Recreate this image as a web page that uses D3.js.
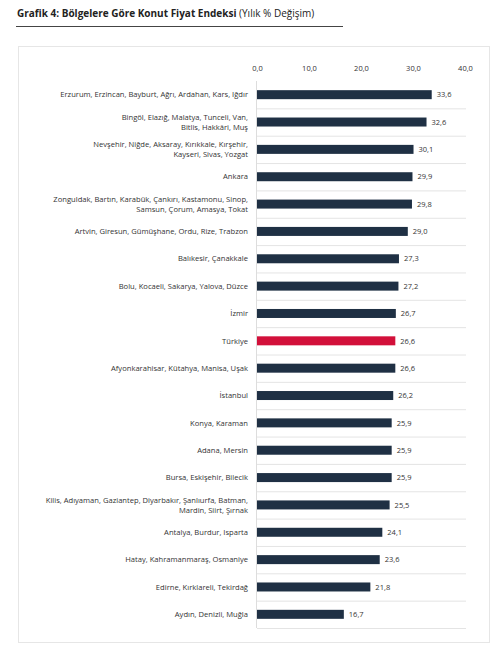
<!DOCTYPE html>
<html><head><meta charset="utf-8">
<script src="https://cdn.jsdelivr.net/npm/d3@7"></script>
<style>body{margin:0;background:#fff;font-family:"Open Sans",sans-serif;}</style>
</head><body><svg id="c" width="499" height="645"></svg>
<script>
const categories = [
 ["Erzurum, Erzincan, Bayburt, Ağrı, Ardahan, Kars, Iğdır"],
 ["Bingöl, Elazığ, Malatya, Tunceli, Van,","Bitlis, Hakkâri, Muş"],
 ["Nevşehir, Niğde, Aksaray, Kırıkkale, Kırşehir,","Kayseri, Sivas, Yozgat"],
 ["Ankara"],
 ["Zonguldak, Bartın, Karabük, Çankırı, Kastamonu, Sinop,","Samsun, Çorum, Amasya, Tokat"],
 ["Artvin, Giresun, Gümüşhane, Ordu, Rize, Trabzon"],
 ["Balıkesir, Çanakkale"],
 ["Bolu, Kocaeli, Sakarya, Yalova, Düzce"],
 ["İzmir"],
 ["Türkiye"],
 ["Afyonkarahisar, Kütahya, Manisa, Uşak"],
 ["İstanbul"],
 ["Konya, Karaman"],
 ["Adana, Mersin"],
 ["Bursa, Eskişehir, Bilecik"],
 ["Kilis, Adıyaman, Gaziantep, Diyarbakır, Şanlıurfa, Batman,","Mardin, Siirt, Şırnak"],
 ["Antalya, Burdur, Isparta"],
 ["Hatay, Kahramanmaraş, Osmaniye"],
 ["Edirne, Kırklareli, Tekirdağ"],
 ["Aydın, Denizli, Muğla"]
];
const values = [33.6,32.6,30.1,29.9,29.8,29.0,27.3,27.2,26.7,26.6,26.6,26.2,25.9,25.9,25.9,25.5,24.1,23.6,21.8,16.7];
const ticks = [0,10,20,30,40];
const highlight = "Türkiye";

const svg = d3.select("#c");
svg.append("text").attr("x",17).attr("y",17).attr("font-size",10).attr("font-weight","bold").attr("fill","#222")
  .text("Grafik 4: Bölgelere Göre Konut Fiyat Endeksi ")
  .append("tspan").attr("font-weight","normal").text("(Yılık % Değişim)");
svg.append("line").attr("x1",16).attr("x2",343).attr("y1",26.5).attr("y2",26.5).attr("stroke","#444").attr("stroke-width",1);
svg.append("rect").attr("x",18.5).attr("y",46.5).attr("width",471).attr("height",596).attr("fill","none").attr("stroke","#e6e6e6");

const x = d3.scaleLinear().domain([0,40]).range([257,465]);
const y = d3.scaleBand().domain(d3.range(values.length)).range([81,628]);
const fmt = v => d3.format(".1f")(v).replace(".",",");

svg.append("g").attr("transform","translate(0,74)")
  .call(d3.axisTop(x).tickValues(ticks).tickSize(0).tickFormat(fmt))
  .call(g=>{g.select(".domain").remove();g.selectAll("text").attr("font-size",7.5).attr("fill","#333").attr("font-family","Open Sans");});

const g = svg.append("g");
values.forEach((v,i)=>{
  g.append("line").attr("x1",x(0)).attr("x2",466).attr("y1",y(i)+y.bandwidth()+0.5).attr("y2",y(i)+y.bandwidth()+0.5)
   .attr("stroke","#e4e4e4");
});
g.append("line").attr("x1",x(0)-0.5).attr("x2",x(0)-0.5).attr("y1",81).attr("y2",628).attr("stroke","#ddd");

g.selectAll("rect.bar").data(values).join("rect")
  .attr("x",x(0)).attr("y",(d,i)=>y(i)+y.bandwidth()/2-4.5)
  .attr("width",d=>x(d)-x(0)).attr("height",9)
  .attr("fill",(d,i)=>categories[i][0]===highlight?"#d2103a":"#1f3044");
g.selectAll("text.val").data(values).join("text")
  .attr("x",d=>x(d)+5).attr("y",(d,i)=>y(i)+y.bandwidth()/2+2.7)
  .attr("font-size",7.5).attr("fill","#333").text(fmt);
categories.forEach((c,i)=>{
  const cy = y(i)+y.bandwidth()/2;
  const t = g.append("text").attr("text-anchor","end").attr("font-size",7.6).attr("fill","#333");
  c.forEach((line,j)=>{
    t.append("tspan").attr("x",248).attr("y",cy+2.7+(j-(c.length-1)/2)*10).text(line);
  });
});
</script></body></html>
